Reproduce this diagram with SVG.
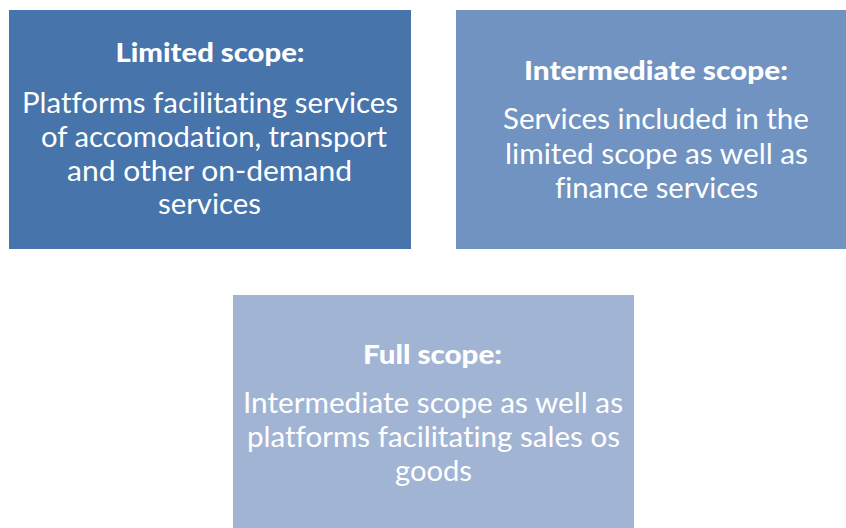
<svg xmlns="http://www.w3.org/2000/svg" width="846" height="528" viewBox="0 0 846 528">
<style>
text{font-family:Lato,"Open Sans",sans-serif;fill:#fff;text-anchor:middle;font-variant-ligatures:none}
.t{font-weight:900;font-size:27px}
.b{font-size:28px}
</style>
<rect width="846" height="528" fill="#fff"/>
<g id="limited">
<rect x="9" y="10" width="402" height="239" fill="#4774AB"/>
<text class="t" x="210" y="62" textLength="189" lengthAdjust="spacingAndGlyphs">Limited scope:</text>
<text class="b" x="210" y="113" textLength="376" lengthAdjust="spacingAndGlyphs">Platforms facilitating services</text>
<text class="b" x="214" y="147" textLength="346" lengthAdjust="spacingAndGlyphs">of accomodation, transport</text>
<text class="b" x="209.5" y="181" textLength="285" lengthAdjust="spacingAndGlyphs">and other on-demand</text>
<text class="b" x="209.5" y="214" textLength="103" lengthAdjust="spacingAndGlyphs">services</text>
</g>
<g id="intermediate">
<rect x="456" y="10" width="400" height="239" fill="#7193C1"/>
<text class="t" x="656" y="80" textLength="264" lengthAdjust="spacingAndGlyphs">Intermediate scope:</text>
<text class="b" x="656" y="129" textLength="306" lengthAdjust="spacingAndGlyphs">Services included in the</text>
<text class="b" x="656.5" y="164" textLength="303" lengthAdjust="spacingAndGlyphs">limited scope as well as</text>
<text class="b" x="656.5" y="198" textLength="203" lengthAdjust="spacingAndGlyphs">finance services</text>
</g>
<g id="full">
<rect x="233" y="295" width="401" height="240" fill="#A2B4D4"/>
<text class="t" x="432.5" y="364" textLength="139" lengthAdjust="spacingAndGlyphs">Full scope:</text>
<text class="b" x="433" y="413" textLength="380" lengthAdjust="spacingAndGlyphs">Intermediate scope as well as</text>
<text class="b" x="433.5" y="447" textLength="373" lengthAdjust="spacingAndGlyphs">platforms facilitating sales os</text>
<text class="b" x="433.5" y="481" textLength="77" lengthAdjust="spacingAndGlyphs">goods</text>
</g>
<g id="connectors"/>
</svg>
